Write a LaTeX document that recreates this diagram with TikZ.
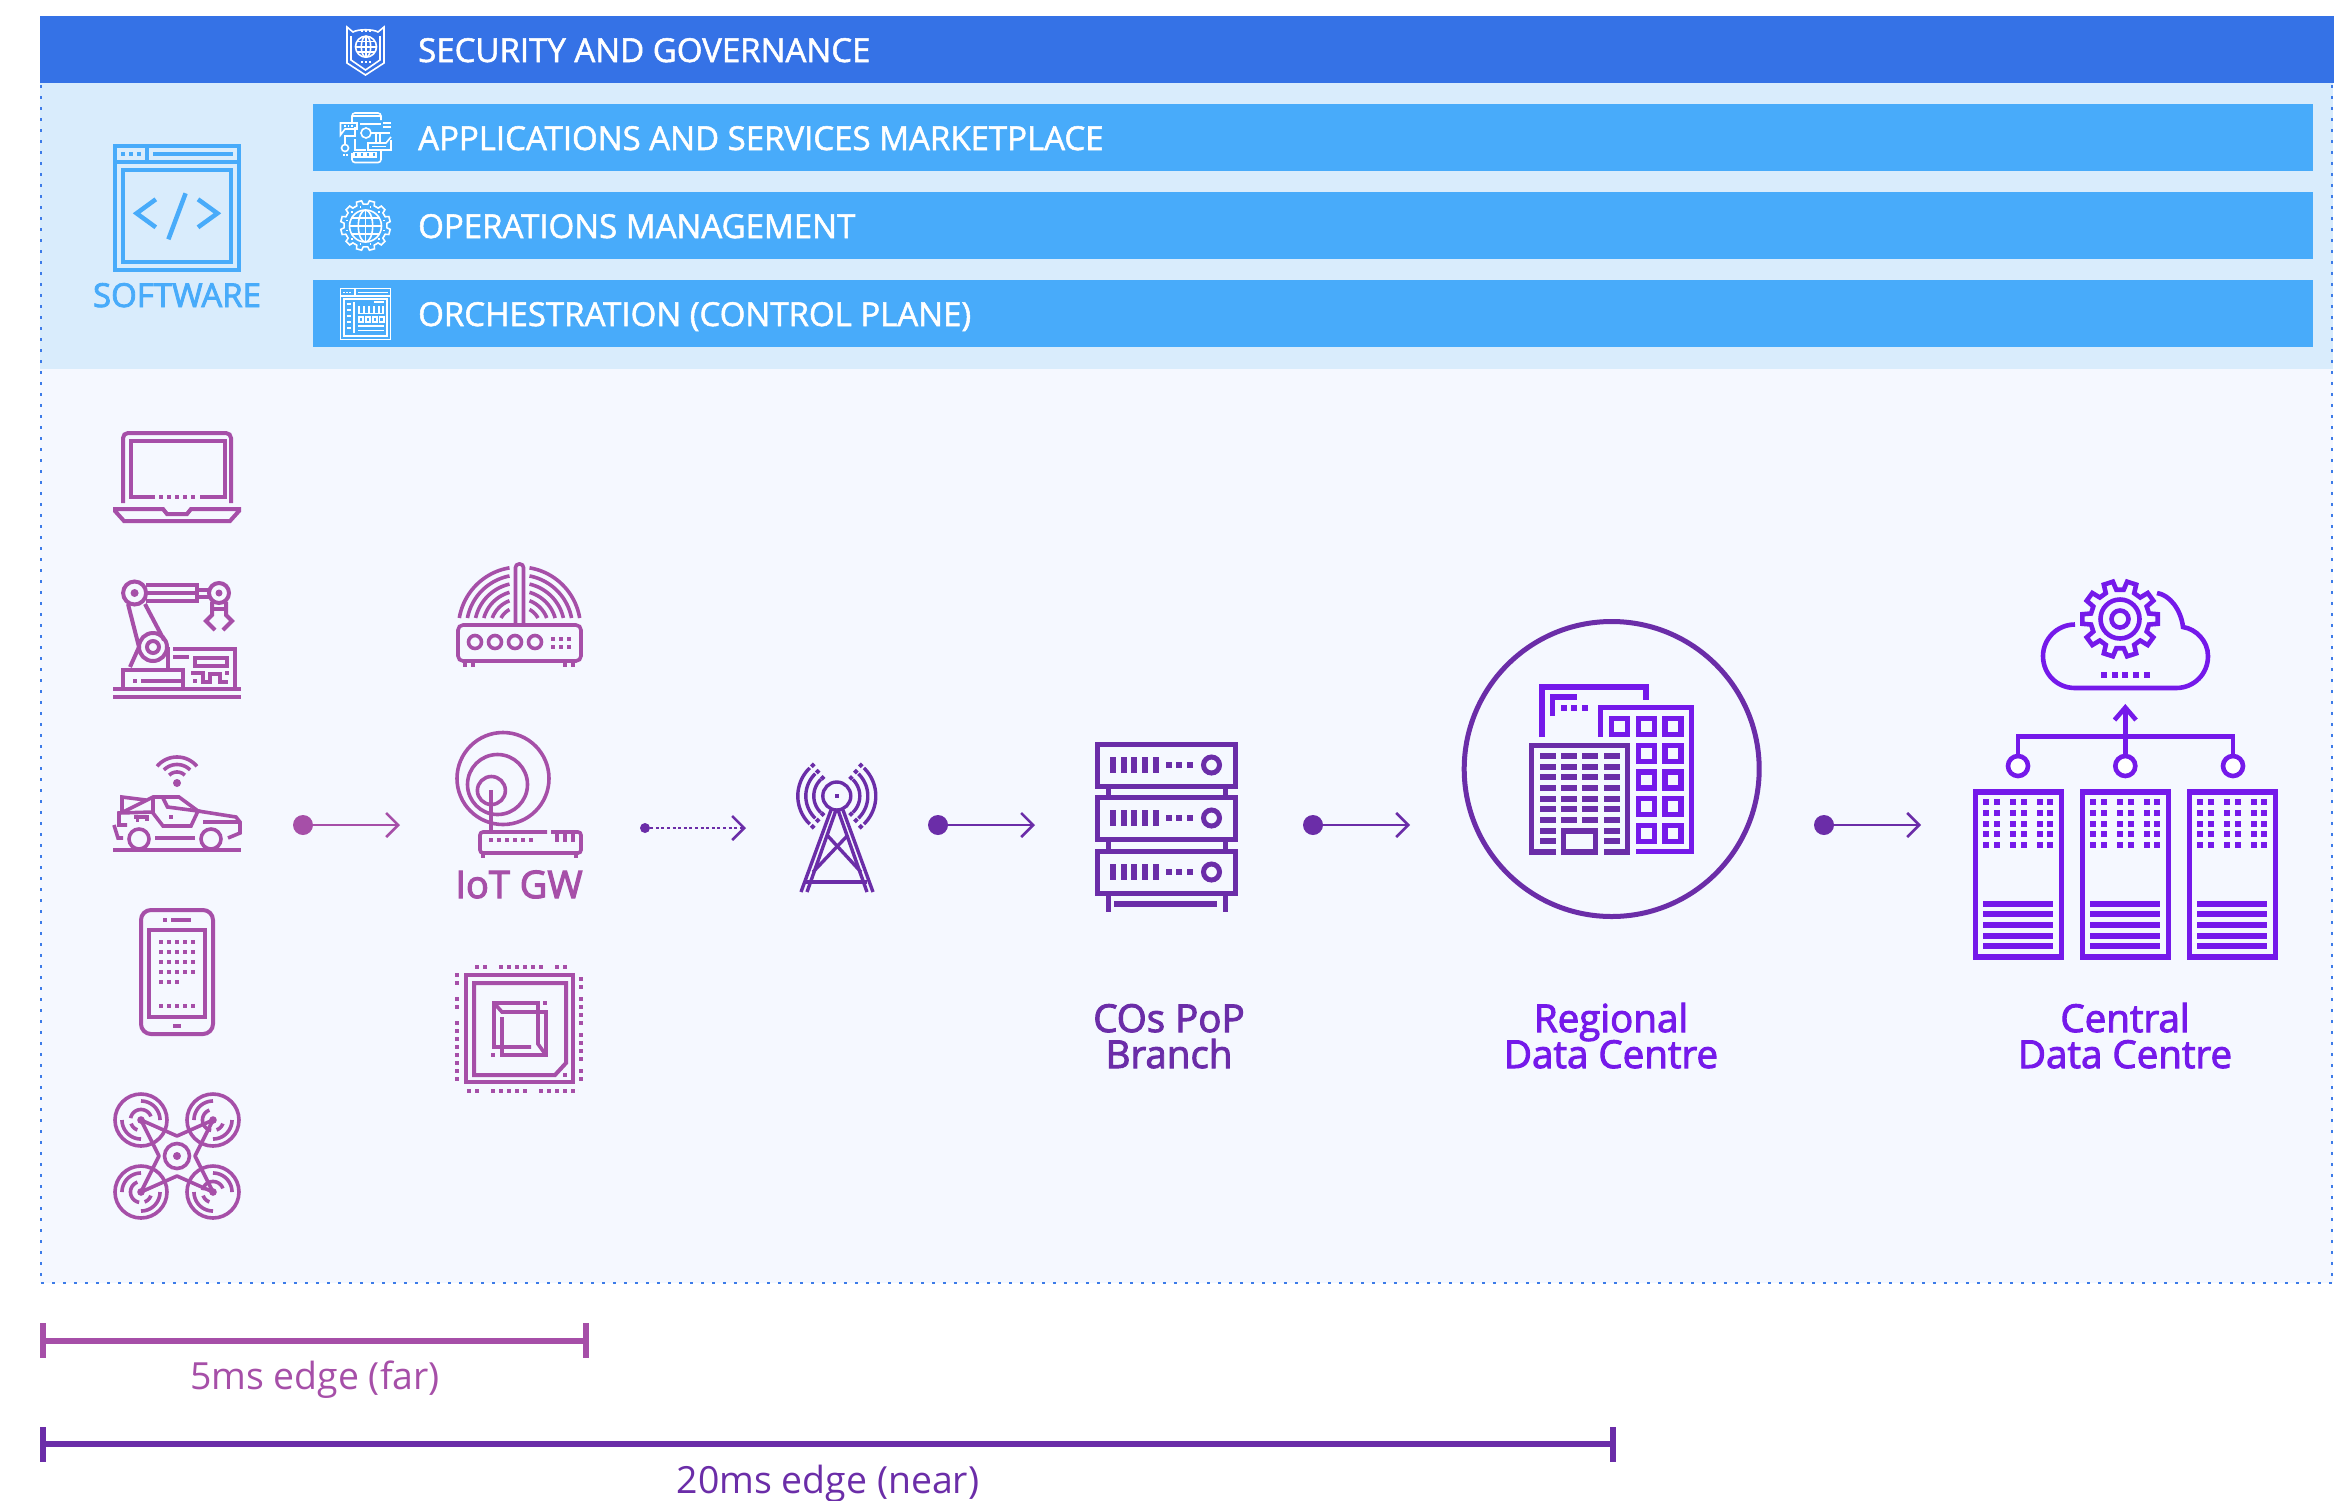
\documentclass[tikz,border=0pt]{standalone}
\usepackage{fontspec}
\setmainfont{Open Sans}
\newfontfamily\barfont[FakeBold=1.6]{Open Sans}
\newfontfamily\semi[FakeBold=2.5]{Open Sans}
\newfontfamily\bolder[FakeBold=3]{Open Sans}
\usetikzlibrary{arrows.meta}
\definecolor{topbar}{HTML}{3572E6}
\definecolor{softbg}{HTML}{D9ECFC}
\definecolor{panelbg}{HTML}{F5F8FF}
\definecolor{barblue}{HTML}{48ABFA}
\definecolor{dotblue}{HTML}{3C7BE8}
\definecolor{magc}{HTML}{A64FA8}
\definecolor{darkp}{HTML}{6B2DA8}
\definecolor{brightp}{HTML}{7519EA}
\newcommand\SqP[3]{\fill ({#1-(#3)/2},{#2-(#3)/2}) rectangle ({#1+(#3)/2},{#2+(#3)/2});}
\newcommand\BoxF[4]{\fill (#1,#2) rectangle (#3,#4);}
\newcommand\ArcP[5]{\pgfmathsetmacro\ArA{#4}\pgfmathsetmacro\ArB{#5}\draw plot[domain=\ArA:\ArB,samples=30,variable=\t] ({#1+(#3)*cos(\t)},{#2-(#3)*sin(\t)});}
\newcommand\GearP[6]{\draw ({#1+#3*cos(#6+0.7*360/#5)},{#2+#3*sin(#6+0.7*360/#5)}) \foreach \gi in {1,...,#5} { -- ({#1+#3*cos(#6+\gi*360/#5-0.3*360/#5)},{#2+#3*sin(#6+\gi*360/#5-0.3*360/#5)}) -- ({#1+#4*cos(#6+\gi*360/#5-0.2*360/#5)},{#2+#4*sin(#6+\gi*360/#5-0.2*360/#5)}) -- ({#1+#4*cos(#6+\gi*360/#5+0.2*360/#5)},{#2+#4*sin(#6+\gi*360/#5+0.2*360/#5)}) -- ({#1+#3*cos(#6+\gi*360/#5+0.3*360/#5)},{#2+#3*sin(#6+\gi*360/#5+0.3*360/#5)}) } -- cycle;}
\newcommand\GlobeP[4]{\draw (#1,#2) circle (#3pt); \draw (#1,#2) ellipse [x radius=#3pt*0.45,y radius=#3pt]; \draw (#1,{#2-#3}) -- (#1,{#2+#3}); \foreach \gl in {-0.5,0,0.5} {\draw ({#1-#3*sqrt(1-\gl*\gl)},{#2+#3*\gl}) -- ({#1+#3*sqrt(1-\gl*\gl)},{#2+#3*\gl});}}
\tikzset{
  x=1pt,y=-1pt,
  bartext/.style={anchor=base west,inner sep=0pt,text=white,font=\barfont\fontsize{33}{33}\selectfont},
  softtext/.style={anchor=base,inner sep=0pt,text=barblue,font=\semi\fontsize{33}{33}\selectfont},
  lab/.style={anchor=base,inner sep=0pt,font=\semi\fontsize{38.5}{38.5}\selectfont},
  rulerlab/.style={anchor=base,inner sep=0pt,font=\fontsize{37.4}{37.4}\selectfont},
  dotline/.style={draw=dotblue,line width=2.6pt,dash pattern=on 2.6pt off 8.4pt},
  whiteicon/.style={color=white,line width=1.6pt},
  blueicon/.style={color=barblue,line width=4pt},
  magicon/.style={color=magc,line width=4pt},
  darkicon/.style={color=darkp,line width=5pt},
  brighticon/.style={color=brightp,line width=5pt},
  enddot/.style={circle,fill,inner sep=0pt,minimum size=#1},
  flow/.style={line width=2.6pt,-{Straight Barb[length=12pt,width=24pt,line width=2.6pt]}},
  ruler/.style={line width=5.5pt},
  rulercap/.style={line width=6pt},
}
\begin{document}
\begin{tikzpicture}
\useasboundingbox (0,0) rectangle (2342,1500);
\fill[white] (0,0) rectangle (2342,1500);
% panels
\fill[panelbg] (40,83) rectangle (2333,1283);
\fill[softbg] (40,83) rectangle (2333,369);
\draw[dotline] (41,85) -- (41,1283);
\draw[dotline] (2332,85) -- (2332,1283);
\draw[dotline] (41,1283) -- (2333,1283);
\fill[topbar] (40,16) rectangle (2334,83);
\foreach \yy in {104,192,280} {\fill[barblue] (313,\yy) rectangle (2313,{\yy+67});}
% bar texts
\node[bartext] (tsec) at (418,62) {SECURITY AND GOVERNANCE};
\node[bartext] (tapp) at (418,150) {APPLICATIONS AND SERVICES MARKETPLACE};
\node[bartext] (tops) at (418,238) {OPERATIONS MANAGEMENT};
\node[bartext] (torc) at (418,326) {ORCHESTRATION (CONTROL PLANE)};
% software icon
\begin{scope}[blueicon]
\draw (115,146) rectangle (239,270);
\draw (115,162) -- (239,162);
\draw (147.3,146) -- (147.3,162);
\foreach \xx in {123,131,139} {\SqP{\xx}{154}{4}}
\BoxF{153}{152}{233.4}{156}
\draw (123,170) rectangle (231.4,262);
\draw[line width=4.5pt] (155.8,199.3) -- (136.6,213.3) -- (155.8,227.3);
\draw[line width=4.5pt] (198,199.3) -- (217.4,213.3) -- (198,227.3);
\draw[line width=4.5pt] (185.6,193.3) -- (168.4,239.3);
\end{scope}
\node[softtext] (tsoft) at (177,307) {SOFTWARE};
% shield
\begin{scope}[whiteicon]
\draw (347,27) -- (353,32) .. controls (358,29) and (373,29) .. (378,32) -- (384,27) -- (384,63) -- (365.5,75) -- (347,63) -- cycle;
\draw (351,36) -- (351,60) -- (365.5,70) -- (380,60) -- (380,36);
\GlobeP{366}{46.7}{10.5}{}
\foreach \xx in {362,366,370} {\SqP{\xx}{31}{1.8}\SqP{\xx}{62}{1.8}}
\end{scope}
% apps icon
\begin{scope}[whiteicon]
\draw[rounded corners=3pt] (352,122) -- (352,113) -- (381,113) -- (381,120);
\draw (352,116) -- (381,116);
\draw[rounded corners=3pt] (352,153) -- (352,162.5) -- (381,162.5) -- (381,150);
\draw (340.5,123) -- (357,123) -- (357,129) -- (345,129) -- (340.5,135) -- cycle;
\foreach \xx in {345,348.5,352} {\SqP{\xx}{126}{1.8}}
\draw (366,133) circle (5pt);
\draw (345,148) circle (3.5pt);
\draw (345,144) -- (345,136) -- (355,136) -- (355,127);
\draw (360,124) -- (381,124);
\draw (383,123) -- (391,123); \draw (383,127) -- (391,127);
\draw (371,133) -- (390,133);
\draw (376,134) -- (376,142); \draw (380,134) -- (380,142);
\draw (391,140) -- (391,150) -- (368,150) -- (368,143) -- (386,143) -- (391,137);
\draw (372,146.5) -- (386,146.5);
\draw (355,139) -- (355,150) -- (366,150);
\foreach \xx in {356,362,368,374} {\draw (\xx-2,152.5) rectangle (\xx+2,157);}
\foreach \xx in {344,347} {\SqP{\xx}{155}{1.8}}
\end{scope}
% ops icon
\begin{scope}[whiteicon]
\GearP{365.5}{225.5}{25}{21.5}{12}{0}
\GlobeP{365.5}{226}{16}{}
\foreach \ang in {15,45,...,345} {\SqP{365.5+19*cos(\ang)}{225.5+19*sin(\ang)}{1.6}}
\end{scope}
% orch icon
\begin{scope}[whiteicon]
\draw (340.5,288.5) rectangle (390.5,339.5);
\draw (340.5,296) -- (390.5,296);
\draw (355,289) -- (355,296);
\foreach \xx in {344,347,350} {\SqP{\xx}{292.5}{1.8}}
\draw (358,292.5) -- (388,292.5);
\draw (344,299) rectangle (387,336);
\draw (354,302) -- (354,333);
\foreach \yy in {304,310,316,322,328} {\draw (346.5,\yy) -- (351,\yy);}
\draw (374,302) -- (384,302);
\draw (358,313.5) -- (384,313.5);
\foreach \xx in {359,364,369,374,379,383} {\draw (\xx,306) -- (\xx,313);}
\foreach \xx in {361,368,375,381.5} {\draw (\xx-2.2,317) rectangle (\xx+2.2,322);}
\draw (358,326) -- (384,326); \draw (358,330.5) -- (384,330.5);
\end{scope}
% laptop
\begin{scope}[magicon]
\draw[rounded corners=5pt] (123,503) -- (123,433) -- (231,433) -- (231,503);
\draw (155,497) -- (131,497) -- (131,441) -- (225,441) -- (225,497) -- (200,497);
\foreach \xx in {161,169,177,185,193} {\SqP{\xx}{497}{4}}
\draw (115,509) -- (163,509) -- (167,514) -- (187,514) -- (191,509) -- (239,509) -- (239,511) -- (230,521) -- (124,521) -- (115,511) -- cycle;
\end{scope}
% robot
\begin{scope}[magicon]
\draw (134.6,593) circle (11.5pt);
\fill (134.6,593) circle (4pt);
\draw (146,585) -- (197,585) -- (197,601) -- (146,601);
\draw (147,593) -- (197,593);
\draw (197,589.5) -- (209,589.5); \draw (197,597) -- (209,597);
\draw (219,593) circle (10pt);
\fill (219,593) circle (3.5pt);
\draw (212,602) -- (212,615) -- (206,621) -- (215,630);
\draw (226,602) -- (226,615) -- (232,621) -- (223,630);
\draw (212,609) -- (226,609);
\draw (128,604) -- (139,647) -- (130,667);
\draw (145,604) -- (164,640);
\draw (153,647) circle (14pt);
\draw (153,647) circle (6pt);
\draw (167.5,647) -- (167.5,668);
\draw (123,688) -- (123,670) -- (183,670) -- (183,688);
\SqP{135}{681}{4}
\draw (141,681) -- (182,681);
\draw (173,649) -- (235,649) -- (235,688);
\draw (173,657) -- (189,657);
\draw (195,658) rectangle (227,666);
\draw (191,673) -- (203,673) -- (203,682) -- (210,682) -- (210,674) -- (220,674) -- (220,682) -- (228,682);
\SqP{195}{681}{4}
\SqP{227}{673}{4}
\BoxF{113}{687}{241}{691}
\BoxF{113}{695}{241}{699}
\end{scope}
% car
\begin{scope}[magicon,line width=3.6pt]
\fill (177,783) circle (4pt);
\ArcP{177}{783}{11}{45}{135}
\ArcP{177}{783}{18.5}{45}{135}
\ArcP{177}{783}{26}{40}{140}
\BoxF{113}{848}{241}{852}
\draw (139,839) circle (10pt);
\draw (211,839) circle (10pt);
\draw (155,838) -- (195,838);
\draw (123,812) -- (153,797) -- (179,797) -- (198,811) -- (236,817) -- (240,822) -- (240,833) -- (228,838);
\draw (153,797) -- (153,813) -- (163,826) -- (191,826) -- (198,811) -- (167.5,807) -- (163,798);
\SqP{171}{817}{4}
\draw (122,812) -- (122,797) -- (146,800);
\draw (153,812) -- (119,813) -- (119,825) -- (127,825);
\draw (114,825) -- (118,838) -- (123,838);
\draw (134,817) -- (147,817) -- (147,821);
\SqP{137}{820}{3}
\draw (203,822) -- (240,822);
\end{scope}
% phone
\begin{scope}[magicon]
\draw[rounded corners=10pt] (141,910) rectangle (213,1034);
\draw (149,930) rectangle (205,1017);
\SqP{165}{920}{4}
\BoxF{171}{918}{191}{922}
\BoxF{173}{1024}{181}{1028}
\foreach \yy in {942,952,962,972,1006} {\foreach \xx in {161,169,177,185,193} {\SqP{\xx}{\yy}{4}}}
\foreach \xx in {161,169,177} {\SqP{\xx}{982}{4}}
\end{scope}
% drone
\begin{scope}[magicon,line width=3.6pt]
\foreach \cx/\cy/\a in {141/1120/0,213/1120/90,141/1192/90,213/1192/0} {
  \draw (\cx,\cy) circle (26pt);
  \ArcP{\cx}{\cy}{19}{\a}{\a+90}
  \ArcP{\cx}{\cy}{19}{\a+180}{\a+270}
  \ArcP{\cx}{\cy}{10.5}{\a+20}{\a+170}
  \ArcP{\cx}{\cy}{10.5}{\a+200}{\a+250}
  \fill (\cx,\cy) circle (3.8pt);
}
\draw[line join=round] (141,1120) -- (177,1136) -- (213,1120) -- (195,1156) -- (213,1192) -- (177,1176) -- (141,1192) -- (159,1156) -- cycle;
\draw (177,1156) circle (12.5pt);
\fill (177,1156) circle (4pt);
\end{scope}
% router
\begin{scope}[magicon,line width=3.6pt]
\draw[rounded corners=5pt] (458,625) rectangle (581,661);
\foreach \xx in {465,473,565,573} {\draw (\xx,662) -- (\xx,667);}
\foreach \xx in {475,495,515,535} {\draw (\xx,642) circle (6.5pt);}
\foreach \xx in {553,561,569} {\SqP{\xx}{639}{4}\SqP{\xx}{647}{4}}
\draw[rounded corners=3.5pt] (515.5,625) -- (515.5,564) -- (523.5,564) -- (523.5,625);
\foreach \r in {21,29,37,45,53,61} {
  \ArcP{519.5}{628}{\r}{asin(10/\r)}{acos(10/\r)}
  \ArcP{519.5}{628}{\r}{180-acos(10/\r)}{180-asin(10/\r)}
}
\end{scope}
% dish
\begin{scope}[magicon,line width=3.6pt]
\draw (503,778.5) circle (46pt);
\draw (497.5,784.5) circle (30pt);
\draw (491.4,790.5) circle (14pt);
\draw (491,790) -- (491,832);
\draw[rounded corners=3pt] (547,832) -- (480,832) -- (480,853) -- (581,853) -- (581,832) -- (551,832);
\foreach \xx in {557,565,573} {\draw[line width=4pt] (\xx,833) -- (\xx,842);}
\foreach \xx in {491,499,507,515,523,531} {\SqP{\xx}{840}{4}}
\foreach \xx in {483,576} {\draw (\xx,854) -- (\xx,858);}
\end{scope}
\node[lab,text=magc,font=\bolder\fontsize{38}{38}\selectfont] (tiot) at (519,898) {IoT GW};
% chip
\begin{scope}[magicon]
\draw (466,975) rectangle (573,1082);
\draw (474,983) -- (566,983) -- (566,1063) -- (555,1075) -- (474,1075) -- cycle;
\draw[line width=3.6pt] (531,1047) -- (494,1047) -- (494,1003) -- (538,1003) -- (538,1044) -- (546,1055);
\draw[line width=3.6pt] (494,1003) -- (502,1012) -- (546,1012) -- (546,1055) -- (502,1055) -- (502,1017);
\SqP{545}{1003}{4}\SqP{493}{1055}{4}\SqP{565}{1075}{4}
\foreach \yy in {975,983,999,1007,1023,1031,1039,1047,1055,1063,1071,1079} {\SqP{457}{\yy}{4}}
\foreach \yy in {979,987,999,1007,1015,1023,1035,1043,1051,1059,1071,1079} {\SqP{581}{\yy}{4}}
\foreach \xx in {477,485,501,509,517,525,533,541,557,565} {\SqP{\xx}{967}{4}}
\foreach \xx in {469,477,493,501,509,517,525,541,549,557,565,573} {\SqP{\xx}{1091}{4}}
\end{scope}
% tower
\begin{scope}[darkicon,line width=3.4pt]
\draw (836.8,796) circle (14pt);
\SqP{836.8}{796}{4}
\foreach \r in {23,31,39} {
  \ArcP{836.8}{796}{\r}{-46}{46}
  \ArcP{836.8}{796}{\r}{134}{226}
  \foreach \ang in {52,128,-52,-128} {\fill[rotate around={45:({836.8+\r*cos(\ang)},{796-\r*sin(\ang)})}] ({836.8+\r*cos(\ang)-2},{796-\r*sin(\ang)-2}) rectangle ({836.8+\r*cos(\ang)+2},{796-\r*sin(\ang)+2});}
}
\draw (831,810) -- (801,892);
\draw (836,810) -- (807,892);
\draw (843,810) -- (873,892);
\draw (838,810) -- (867,892);
\draw (827,835) -- (861,872);
\draw (848,835) -- (813,872);
\draw (806,882) -- (867,882);
\end{scope}
% server
\begin{scope}[darkicon]
\foreach \ty in {744,797,851} {
  \draw (1097,\ty) rectangle (1235,{\ty+42});
  \foreach \xx in {1113,1124,1134,1145,1156} {\fill ({\xx-2.8},{\ty+13}) rectangle ({\xx+2.8},{\ty+29});}
  \foreach \xx in {1169,1179,1190} {\SqP{\xx}{\ty+21}{6}}
  \draw (1211.5,{\ty+21}) circle (8pt);
}
\foreach \xx in {1108,1225} {
  \draw (\xx,788) -- (\xx,795);
  \draw (\xx,841) -- (\xx,849);
  \draw (\xx,895) -- (\xx,912);
}
\BoxF{1114}{901}{1217}{907}
\end{scope}
% regional
\draw[darkp,line width=5pt] (1611.7,769) circle (147.5pt);
\begin{scope}[brighticon,line width=5.3pt]
\draw (1542,737) -- (1542,687) -- (1646,687) -- (1646,700);
\draw (1552.7,716) -- (1552.7,697) -- (1577,697);
\foreach \xx in {1564,1574,1585} {\SqP{\xx}{708}{6}}
\draw (1600.7,737) -- (1600.7,707.7) -- (1691.7,707.7) -- (1691.7,851.7) -- (1635.7,851.7);
\draw ({1619.7-8},{726.7-8}) rectangle ({1619.7+8},{726.7+8});
\foreach \xx in {1646.3,1673} {\foreach \yy in {726.7,753.3,780,806.7,833.3} {\draw ({\xx-8},{\yy-8}) rectangle ({\xx+8},{\yy+8});}}
\end{scope}
\begin{scope}[darkicon,line width=5.3pt]
\draw (1556,852) -- (1531.7,852) -- (1531.7,745.3) -- (1627.3,745.3) -- (1627.3,852) -- (1603.5,852);
\draw (1563.7,831) rectangle (1595.3,852);
\foreach \yy in {756,767,777,788,799,809,820} {\foreach \xa in {1540,1561,1582,1604} {\fill (\xa,{\yy-3}) rectangle ({\xa+16},{\yy+3});}}
\foreach \yy in {831,841} {\foreach \xa in {1540,1604} {\fill (\xa,{\yy-3}) rectangle ({\xa+16},{\yy+3});}}
\end{scope}
% central
\begin{scope}[brighticon,line width=4.6pt]
\GearP{2120}{619}{38}{29.5}{10}{-90}
\draw (2120,619) circle (19.5pt);
\draw (2120,619) circle (8.5pt);
\draw (2075,624.5) .. controls (2057,624.5) and (2043,639) .. (2043,656) .. controls (2043,674) and (2057,688) .. (2075,688) -- (2176,688) .. controls (2194,688) and (2208,674) .. (2208,656) .. controls (2208,641) and (2196,629) .. (2183,627) .. controls (2181,610) and (2170,595) .. (2157,593);
\foreach \xx in {2104,2115,2125,2136,2147} {\SqP{\xx}{675}{6}}
\draw (2018,755) -- (2018,736.7) -- (2233,736.7) -- (2233,755);
\draw (2125.3,755) -- (2125.3,708);
\draw (2114.5,720) -- (2125.3,707.5) -- (2136,720);
\foreach \xx in {2018,2125.3,2233} {\filldraw[fill=white] (\xx,766) circle (10pt);}
\foreach \xl in {1972.7,2080,2187} {
  \draw[line width=5.3pt] ({\xl+2.7},792) rectangle ({\xl+88.7},957);
  \foreach \yy in {802,813,824,834,845} {\foreach \xo in {13.3,24.3,40.3,51.3,67.3,77.3} {\SqP{\xl+\xo}{\yy}{6}}}
  \foreach \yy in {904,914,925,936,946} {\fill ({\xl+10.3},{\yy-3}) rectangle ({\xl+80.3},{\yy+3});}
}
\end{scope}
% labels
\node[lab,text=darkp,align=center] (tcos1) at (1169,1032) {COs PoP};
\node[lab,text=darkp] (tcos2) at (1169,1068) {Branch};
\node[lab,text=brightp] (treg1) at (1611,1032) {Regional};
\node[lab,text=brightp] (treg2) at (1611,1068) {Data Centre};
\node[lab,text=brightp] (tcen1) at (2125,1032) {Central};
\node[lab,text=brightp] (tcen2) at (2125,1068) {Data Centre};
% connectors
\node[enddot=20pt,text=magc,fill=magc] (s1) at (303,825) {};
\coordinate (e1) at (400,825);
\draw[flow,magc] (s1) -- (e1);
\node[enddot=10pt,fill=darkp] (s2) at (645,828) {};
\coordinate (e2) at (746,828);
\draw[flow,darkp,dash pattern=on 3pt off 2.6pt] (s2) -- (e2);
\node[enddot=20pt,fill=darkp] (s3) at (938,825) {};
\coordinate (e3) at (1035,825);
\draw[flow,darkp] (s3) -- (e3);
\node[enddot=20pt,fill=darkp] (s4) at (1313,825) {};
\coordinate (e4) at (1410,825);
\draw[flow,darkp] (s4) -- (e4);
\node[enddot=20pt,fill=darkp] (s5) at (1824,825) {};
\coordinate (e5) at (1921,825);
\draw[flow,darkp] (s5) -- (e5);
% rulers
\coordinate (r1a) at (43,1341);
\coordinate (r1b) at (586,1341);
\draw[ruler,magc] (r1a) -- (r1b);
\draw[rulercap,magc] (43,1323) -- (43,1358);
\draw[rulercap,magc] (586,1323) -- (586,1358);
\node[rulerlab,text=magc] (tfar) at (315,1389) {5ms edge (far)};
\coordinate (r2a) at (43,1444);
\coordinate (r2b) at (1613,1444);
\draw[ruler,darkp] (r2a) -- (r2b);
\draw[rulercap,darkp] (43,1427) -- (43,1462);
\draw[rulercap,darkp] (1613,1427) -- (1613,1462);
\node[rulerlab,text=darkp] (tnear) at (828,1493) {20ms edge (near)};
\end{tikzpicture}
\end{document}
